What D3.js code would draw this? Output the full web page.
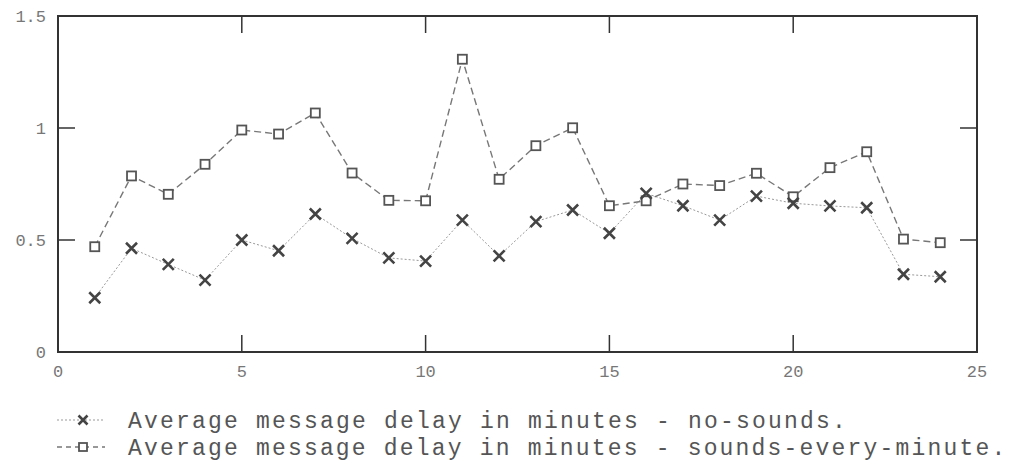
<!DOCTYPE html>
<html><head><meta charset="utf-8">
<script src="https://cdn.jsdelivr.net/npm/d3@7"></script>
<style>body{margin:0;background:#fff}</style>
</head><body><svg id="c" width="1015" height="465"></svg>
<script>
const minutes = d3.range(1, 25);
const noSounds = [0.242,0.463,0.391,0.321,0.500,0.452,0.616,0.507,0.420,0.406,0.589,0.429,0.582,0.634,0.530,0.708,0.653,0.589,0.696,0.664,0.652,0.644,0.347,0.336];
const soundsEveryMinute = [0.470,0.786,0.704,0.838,0.991,0.973,1.067,0.799,0.677,0.675,1.307,0.771,0.921,1.001,0.653,0.675,0.750,0.743,0.798,0.693,0.823,0.894,0.504,0.488];
const xTicks = [0,5,10,15,20,25];
const yTicks = [0,0.5,1,1.5];
const yTickLabels = ["0","0.5","1","1.5"];
const legendLabels = ["Average message delay in minutes - no-sounds.","Average message delay in minutes - sounds-every-minute."];

const svg = d3.select("#c");
const L=58,R=977,T=16,B=352;
const x = d3.scaleLinear().domain([0,25]).range([L,R]);
const y = d3.scaleLinear().domain([0,1.5]).range([B,T]);
const font = "'Liberation Mono','DejaVu Sans Mono',monospace";
const tk = 17;

// ticks (inside, mirrored)
const tg = svg.append("g").attr("stroke","#333").attr("stroke-width",1.5);
xTicks.slice(1,-1).forEach(v=>{
  tg.append("line").attr("x1",x(v)).attr("x2",x(v)).attr("y1",B).attr("y2",B-tk);
  tg.append("line").attr("x1",x(v)).attr("x2",x(v)).attr("y1",T).attr("y2",T+tk);
});
yTicks.slice(1,-1).forEach(v=>{
  tg.append("line").attr("x1",L).attr("x2",L+tk).attr("y1",y(v)).attr("y2",y(v));
  tg.append("line").attr("x1",R).attr("x2",R-tk).attr("y1",y(v)).attr("y2",y(v));
});
svg.append("rect").attr("x",L).attr("y",T).attr("width",R-L).attr("height",B-T)
  .attr("fill","none").attr("stroke","#333").attr("stroke-width",2);

// tick labels
svg.append("g").selectAll("text").data(xTicks).join("text")
  .attr("x",d=>x(d)).attr("y",B+25).attr("text-anchor","middle")
  .attr("font-family",font).attr("font-size",17).attr("fill","#777").text(d=>d);
svg.append("g").selectAll("text").data(yTicks).join("text")
  .attr("x",46).attr("y",d=>y(d)+6).attr("text-anchor","end")
  .attr("font-family",font).attr("font-size",17).attr("fill","#777").text((d,i)=>yTickLabels[i]);

const line = d3.line().x((d,i)=>x(minutes[i])).y(d=>y(d));
svg.append("path").datum(noSounds).attr("d",line).attr("fill","none")
  .attr("stroke","#999").attr("stroke-width",1).attr("stroke-dasharray","2,2");
svg.append("path").datum(soundsEveryMinute).attr("d",line).attr("fill","none")
  .attr("stroke","#777").attr("stroke-width",1.4).attr("stroke-dasharray","7,4");

function cross(g,cx,cy,s){
  g.append("path").attr("d",`M${cx-s},${cy-s}L${cx+s},${cy+s}M${cx-s},${cy+s}L${cx+s},${cy-s}`)
   .attr("stroke","#444").attr("stroke-width",2.6).attr("fill","none");
}
function square(g,cx,cy,s){
  g.append("rect").attr("x",cx-s).attr("y",cy-s).attr("width",2*s).attr("height",2*s)
   .attr("fill","#fff").attr("stroke","#555").attr("stroke-width",1.8);
}
const mg = svg.append("g");
soundsEveryMinute.forEach((v,i)=>square(mg,x(minutes[i]),y(v),4.5));
noSounds.forEach((v,i)=>cross(mg,x(minutes[i]),y(v),5.5));

// legend
const lg = svg.append("g");
const rows=[420,447];
lg.append("line").attr("x1",57).attr("x2",105).attr("y1",rows[0]).attr("y2",rows[0])
  .attr("stroke","#999").attr("stroke-width",1).attr("stroke-dasharray","2,2");
cross(lg,83,rows[0],4.5);
lg.append("line").attr("x1",57).attr("x2",105).attr("y1",rows[1]).attr("y2",rows[1])
  .attr("stroke","#777").attr("stroke-width",1.4).attr("stroke-dasharray","5,4");
square(lg,83,rows[1],4);
lg.selectAll("text").data(legendLabels).join("text")
  .attr("x",128).attr("y",(d,i)=>rows[i]+8).attr("font-family",font).attr("font-size",23)
  .attr("textLength",d=>d.length*15.95).attr("lengthAdjust","spacing")
  .attr("fill","#555").attr("xml:space","preserve").style("white-space","pre").text(d=>d);
</script></body></html>
